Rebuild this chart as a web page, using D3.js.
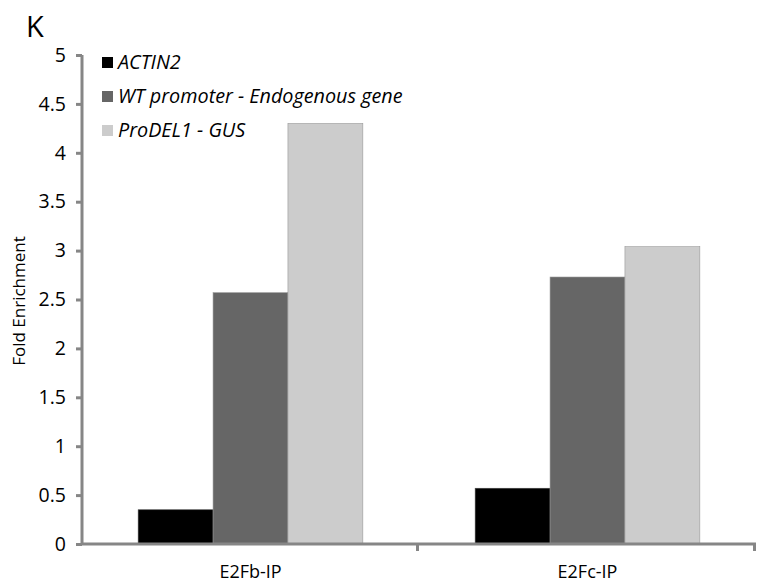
<!DOCTYPE html>
<html>
<head>
<meta charset="utf-8">
<title>Fold Enrichment</title>
<script src="https://cdn.jsdelivr.net/npm/d3@7"></script>
<style>
  body { margin: 0; background: #fff; }
  text { font-family: "Open Sans", sans-serif; fill: #000; }
</style>
</head>
<body>
<svg id="chart" width="757" height="584"></svg>
<script>
// data
var categories = ['E2Fb-IP', 'E2Fc-IP'];
var seriesNames = ['ACTIN2', 'WT promoter - Endogenous gene', 'ProDEL1 - GUS'];
var actin2 = [0.35, 0.57];
var wtPromoter = [2.57, 2.73];
var proDel1 = [4.30, 3.04];
var yTicks = [0, 0.5, 1, 1.5, 2, 2.5, 3, 3.5, 4, 4.5, 5];

var colors = ['#000000', '#666666', '#cccccc'];
var series = [actin2, wtPromoter, proDel1];

var svg = d3.select('#chart');
var margin = {left: 82, right: 1, top: 55, bottom: 40};
var W = 757, H = 584;

var x = d3.scaleBand().domain(categories).range([margin.left, W - margin.right]);
// gap width 150% like excel: half a gap (0.75 bar) on each side of the group
var inner = d3.scaleBand().domain(d3.range(series.length))
  .range([0, x.bandwidth()]).paddingInner(0).paddingOuter(0.75);
var y = d3.scaleLinear().domain([0, 5]).range([544, 55]);

// bars
categories.forEach(function(c, ci) {
  series.forEach(function(s, si) {
    svg.append('rect')
      .attr('x', x(c) + inner(si))
      .attr('y', y(s[ci]))
      .attr('width', inner.bandwidth())
      .attr('height', y(0) - y(s[ci]))
      .attr('fill', colors[si])
      .attr('stroke', si === 0 ? '#444' : '#999')
      .attr('stroke-width', 0.6);
  });
});

// y axis
var yAxis = svg.append('g')
  .attr('transform', 'translate(' + margin.left + ',0)')
  .call(d3.axisLeft(y).tickValues(yTicks).tickSize(6).tickPadding(10)
    .tickFormat(function(d) { return String(d); }));
yAxis.select('.domain').attr('stroke', '#868686').attr('stroke-width', 3)
  .attr('d', 'M0,' + y(5) + 'V' + y(0));
yAxis.selectAll('.tick line').attr('stroke', '#868686').attr('stroke-width', 3);
yAxis.selectAll('.tick text').style('font-size', '19.5px').style('font-family', '"Open Sans", sans-serif').attr('fill', '#000');

// x axis
var xAxis = svg.append('g')
  .attr('transform', 'translate(0,' + y(0) + ')')
  .call(d3.axisBottom(x).tickSize(0).tickPadding(21));
xAxis.select('.domain').attr('stroke', '#868686').attr('stroke-width', 3)
  .attr('d', 'M' + margin.left + ',0H' + (W - 1));
xAxis.selectAll('.tick text').style('font-size', '18px').style('font-family', '"Open Sans", sans-serif').attr('fill', '#000');
// category boundary ticks
var bounds = categories.map(function(c) { return x(c); }).concat([x(categories[1]) + x.bandwidth()]);
xAxis.selectAll('.bnd').data(bounds.slice(1)).enter().append('line')
  .attr('x1', function(d) { return d - 1.5; }).attr('x2', function(d) { return d - 1.5; })
  .attr('y1', 0).attr('y2', 7)
  .attr('stroke', '#868686').attr('stroke-width', 3);

// y title
svg.append('text')
  .attr('transform', 'translate(25,301) rotate(-90)')
  .attr('text-anchor', 'middle')
  .style('font-size', '17px')
  .text('Fold Enrichment');

// panel letter
svg.append('text').attr('x', 26).attr('y', 37).style('font-size', '29px').text('K');

// legend
var leg = svg.append('g').attr('transform', 'translate(102,57)');
seriesNames.forEach(function(n, i) {
  leg.append('rect').attr('x', 0).attr('y', i * 34).attr('width', 11).attr('height', 11)
    .attr('fill', colors[i]);
  leg.append('text').attr('x', 16).attr('y', i * 34 + 12)
    .style('font-size', '19.8px').style('font-style', 'italic').text(n);
});
</script>
</body>
</html>
